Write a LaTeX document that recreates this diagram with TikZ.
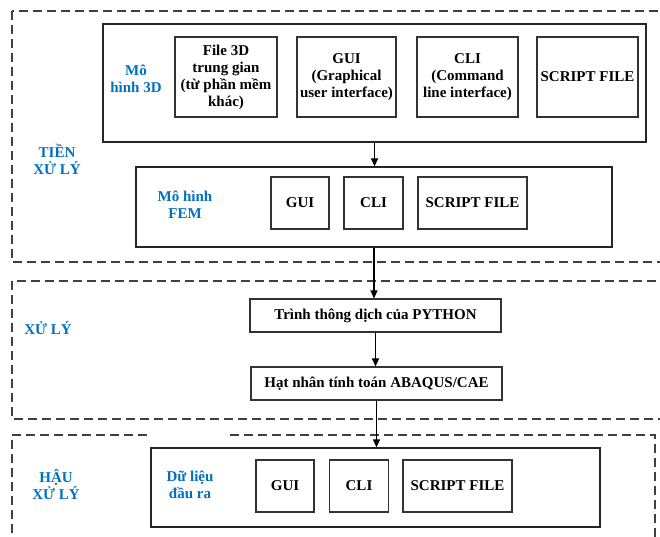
\documentclass[tikz,border=0pt]{standalone}
\usepackage{fontspec}
\setmainfont{Liberation Serif}
\usetikzlibrary{arrows.meta}
\definecolor{lblblue}{HTML}{0070C0}
\begin{document}
\begin{tikzpicture}[x=1pt,y=-1pt,
  every node/.style={font=\fontsize{15}{17}\selectfont\bfseries,align=center,inner sep=0pt},
  bigbox/.style={draw=black!85,line width=1.3pt},
  smallbox/.style={draw=black!80,line width=1.1pt},
  lbl/.style={text=lblblue},
  region/.style={draw=black!75,line width=1.2pt,dash pattern=on 9pt off 5pt},
  arr/.style={-{Triangle[length=8pt,width=7pt]},line width=1.1pt}]
\useasboundingbox[fill=white] (0,0) rectangle (660,536);
% dashed regions
\draw[region] (12,11) rectangle (700,262);
\draw[region] (12,281) rectangle (700,419);
\draw[region] (147,435) -- (12,435) -- (12,560);
\draw[region] (230,435) -- (655,435) -- (655,560);
\node[lbl] (tien) at (57,159) {TIỀN\\XỬ LÝ};
\node[lbl] (xuly) at (48,328) {XỬ LÝ};
\node[lbl] (hau) at (56,485) {HẬU\\XỬ LÝ};
% 3D model
\node[bigbox,minimum width=543,minimum height=118] (model3d) at (374.5,83) {};
\node[lbl] (l3d) at (136,79) {Mô\\hình 3D};
\node[smallbox,minimum width=102,minimum height=80] (file3d) at (226,77) {File 3D\\trung gian\\(từ phần mềm\\khác)};
\node[smallbox,minimum width=99,minimum height=80] (gui1) at (346.5,77) {GUI\\(Graphical\\user interface)};
\node[smallbox,minimum width=101,minimum height=80] (cli1) at (467.5,77) {CLI\\(Command\\line interface)};
\node[smallbox,minimum width=101,minimum height=80] (script1) at (587.5,77) {SCRIPT FILE};
% FEM model
\node[bigbox,minimum width=476,minimum height=80] (fem) at (374,207) {};
\node[lbl] (lfem) at (185,205) {Mô hình\\FEM};
\node[smallbox,minimum width=58,minimum height=52] (gui2) at (300,203) {GUI};
\node[smallbox,minimum width=59,minimum height=52] (cli2) at (373.5,203) {CLI};
\node[smallbox,minimum width=109,minimum height=52] (script2) at (472.5,203) {SCRIPT FILE};
% solver
\node[smallbox,minimum width=251,minimum height=33] (python) at (375.5,315.5) {Trình thông dịch của PYTHON};
\node[smallbox,minimum width=251,minimum height=33] (abaqus) at (376.5,383.5) {Hạt nhân tính toán ABAQUS/CAE};
% output
\node[bigbox,minimum width=449,minimum height=79] (output) at (375.5,487.5) {};
\node[lbl] (lout) at (190,485) {Dữ liệu\\đầu ra};
\node[smallbox,minimum width=58,minimum height=52] (gui3) at (285,486) {GUI};
\node[smallbox,minimum width=59,minimum height=52] (cli3) at (359,486) {CLI};
\node[smallbox,minimum width=109,minimum height=52] (script3) at (457.5,486) {SCRIPT FILE};
% arrows
\draw[arr] (model3d.south) -- (model3d.south |- fem.north);
\draw[arr] (fem.south) -- (fem.south |- python.north);
\draw[arr] (python.south) -- (python.south |- abaqus.north);
\draw[arr] (abaqus.south) -- (abaqus.south |- output.north);
\end{tikzpicture}
\end{document}
